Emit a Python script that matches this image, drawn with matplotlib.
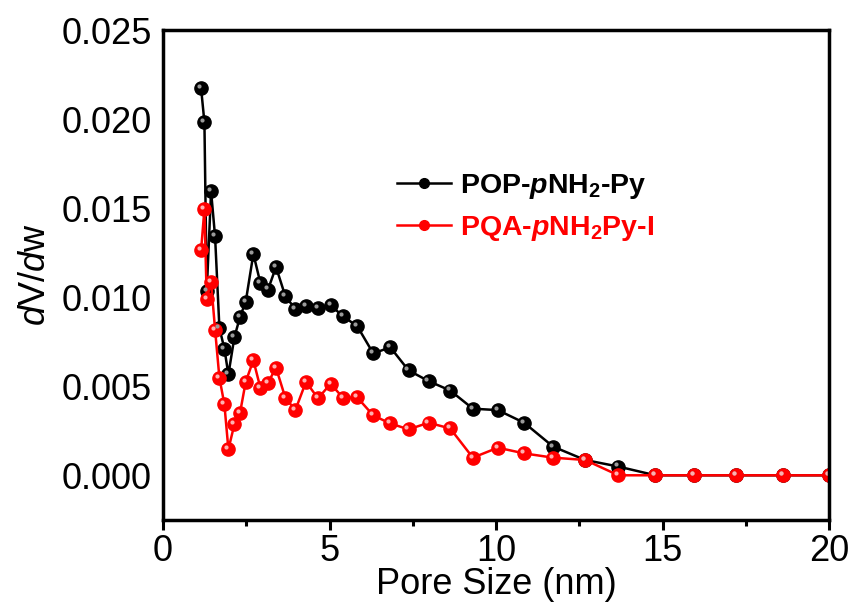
import matplotlib
matplotlib.use("Agg")
import matplotlib.pyplot as plt
import matplotlib.transforms as mtransforms

plt.rcParams['font.family'] = ['Liberation Sans', 'DejaVu Sans']
plt.rcParams['mathtext.fontset'] = 'custom'
plt.rcParams['mathtext.rm'] = 'Liberation Sans'
plt.rcParams['mathtext.it'] = 'Liberation Sans:italic'
plt.rcParams['mathtext.bf'] = 'Liberation Sans:bold'
plt.rcParams['mathtext.bfit'] = 'Liberation Sans:italic:bold'

# pore size (nm), shared by both samples
pore = [1.14, 1.24, 1.31, 1.44, 1.56, 1.69, 1.84, 1.96, 2.14, 2.31,
        2.48, 2.71, 2.92, 3.15, 3.39, 3.67, 3.97, 4.29, 4.65, 5.03,
        5.40, 5.83, 6.31, 6.82, 7.37, 7.97, 8.62, 9.30, 10.05, 10.84,
        11.71, 12.67, 13.67, 14.78, 15.94, 17.21, 18.60, 20.0]
pop = [0.02173, 0.01983, 0.01033, 0.01594, 0.01341, 0.00828, 0.0071, 0.00566, 0.00775, 0.0089,
       0.00974, 0.01243, 0.0108, 0.01043, 0.0117, 0.01005, 0.00934, 0.00949, 0.0094, 0.00955,
       0.00893, 0.00837, 0.00684, 0.00719, 0.00589, 0.00529, 0.00476, 0.00374, 0.00366, 0.00295,
       0.00161, 0.00086, 0.00049, 0, 0, 0, 0, 0]
pqa = [0.01263, 0.01495, 0.0099, 0.01086, 0.00818, 0.00548, 0.00398, 0.00146, 0.00286, 0.00351,
       0.00525, 0.00646, 0.00491, 0.0052, 0.00604, 0.00435, 0.00366, 0.00525, 0.00432, 0.00514,
       0.00435, 0.00437, 0.00336, 0.00291, 0.00258, 0.00295, 0.00263, 0.00099, 0.00155, 0.00123,
       0.00099, 0.00086, 0, 0, 0, 0, 0, 0]

lab_pop = r'POP-$\mathbfit{p}$NH$_\mathbf{2}$-Py'
lab_pqa = r'PQA-$\mathbfit{p}$NH$_\mathbf{2}$Py-I'

fig = plt.figure(figsize=(8.54, 6.13), dpi=100)
ax = fig.add_axes([0.191, 0.152, 0.780, 0.799])

ax.plot(pore, pop, '-o', color='black', lw=1.8, ms=9.5, mec='black', label=lab_pop)
ax.plot(pore, pqa, '-o', color='red', lw=1.8, ms=9.5, mec='red', label=lab_pqa)

# little shine on the spheres
shine = mtransforms.offset_copy(ax.transData, fig=fig, x=-1.5, y=1.5, units='points')
ax.plot(pore, pop, 'o', color='#9a9a9a', ms=3, mew=0, transform=shine)
ax.plot(pore, pqa, 'o', color='#ffb0b0', ms=3, mew=0, transform=shine)

ax.set_xlim(0, 20)
ax.set_ylim(-0.0025, 0.025)
ax.set_xticks([0, 5, 10, 15, 20])
ax.set_xticks([2.5, 7.5, 12.5, 17.5], minor=True)
ax.set_yticks([0, 0.005, 0.010, 0.015, 0.020, 0.025])
ax.set_yticklabels(['0.000', '0.005', '0.010', '0.015', '0.020', '0.025'])

ax.tick_params(axis='x', which='major', direction='out', length=7, width=2.2, labelsize=26, pad=3)
ax.tick_params(axis='x', which='minor', direction='out', length=4, width=2.2)
ax.tick_params(axis='y', which='both', length=0, labelsize=26, pad=8)
for s in ax.spines.values():
    s.set_linewidth(2.5)

ax.set_xlabel('Pore Size (nm)', fontsize=26, labelpad=-1)
ax.set_ylabel(r'$d$V/$d$w', fontsize=26, labelpad=6)

leg = ax.legend(loc='upper left', bbox_to_anchor=(0.351, 0.71), frameon=False,
                prop={'size': 20.5, 'weight': 'bold'}, handlelength=1.9,
                handletextpad=0.3, labelspacing=0.45, borderpad=0, borderaxespad=0)
for txt, c in zip(leg.get_texts(), ['black', 'red']):
    txt.set_color(c)
for h in leg.legend_handles:
    h.set_markersize(7)

fig.savefig('out.png', dpi=100)
